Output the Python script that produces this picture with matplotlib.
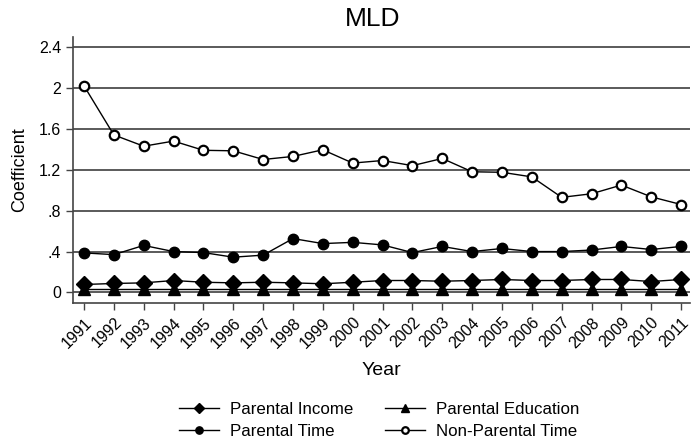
import numpy as np
import matplotlib.pyplot as plt

years = list(range(1991, 2012))

parental_income = [0.078, 0.088, 0.094, 0.117, 0.100, 0.094, 0.100, 0.094, 0.085, 0.100, 0.117,
                   0.117, 0.110, 0.117, 0.127, 0.117, 0.117, 0.127, 0.127, 0.107, 0.127]
parental_education = [0.03] * 21
parental_time = [0.387, 0.37, 0.46, 0.40, 0.39, 0.345, 0.365, 0.527, 0.478, 0.49, 0.465,
                 0.39, 0.45, 0.40, 0.43, 0.40, 0.40, 0.415, 0.45, 0.42, 0.45]
non_parental_time = [2.02, 1.54, 1.43, 1.48, 1.39, 1.385, 1.30, 1.33, 1.395, 1.265, 1.29,
                     1.24, 1.31, 1.18, 1.175, 1.13, 0.93, 0.965, 1.05, 0.935, 0.86]

yticks = [0, 0.4, 0.8, 1.2, 1.6, 2.0, 2.4]
ytick_labels = ["0", ".4", ".8", "1.2", "1.6", "2", "2.4"]

plt.rcParams['font.family'] = ['Liberation Sans', 'DejaVu Sans']

fig = plt.figure(figsize=(6.91, 4.40), dpi=100)
ax = fig.add_axes([0.1056, 0.3125, 0.893, 0.6035])

for y in yticks:
    ax.axhline(y, color='#4d4d4d', lw=1.3, zorder=1)

kw = dict(color='black', lw=1.0, zorder=3)
h1, = ax.plot(years, parental_income, marker='D', ms=8, mfc='black', mec='black', label='Parental Income', **kw)
h2, = ax.plot(years, parental_education, marker='^', ms=8.5, mfc='black', mec='black', label='Parental Education', **kw)
h3, = ax.plot(years, parental_time, marker='o', ms=7.5, mfc='black', mec='black', label='Parental Time', **kw)
h4, = ax.plot(years, non_parental_time, marker='o', ms=6.8, mfc='white', mec='black', mew=1.6,
              label='Non-Parental Time', **kw)

ax.set_xlim(1990.63, 2011.3)
ax.set_ylim(-0.098, 2.498)
ax.set_yticks(yticks)
ax.set_yticklabels(ytick_labels, fontsize=11.5)
ax.set_xticks(years)
ax.set_xticklabels([str(y) for y in years], rotation=45, ha='right', rotation_mode='anchor', fontsize=11.5)
ax.tick_params(axis='both', length=5, width=1, color='#444444')
ax.tick_params(axis='x', pad=4)

for s in ['top', 'right']:
    ax.spines[s].set_visible(False)
for s in ['left', 'bottom']:
    ax.spines[s].set_color('#444444')
    ax.spines[s].set_linewidth(1.2)

ax.set_ylabel('Coefficient', fontsize=13, labelpad=8)
ax.set_xlabel('Year', fontsize=14, labelpad=8)
ax.set_title('MLD', fontsize=19, pad=8, x=0.485)

fig.legend(handles=[h1, h3, h2, h4], ncol=2, loc='lower center', bbox_to_anchor=(0.549, -0.033),
           frameon=False, fontsize=12.2, markerscale=0.7, handlelength=2.35, handletextpad=0.65,
           columnspacing=1.9, labelspacing=0.42)

fig.savefig('out.png', dpi=100)
